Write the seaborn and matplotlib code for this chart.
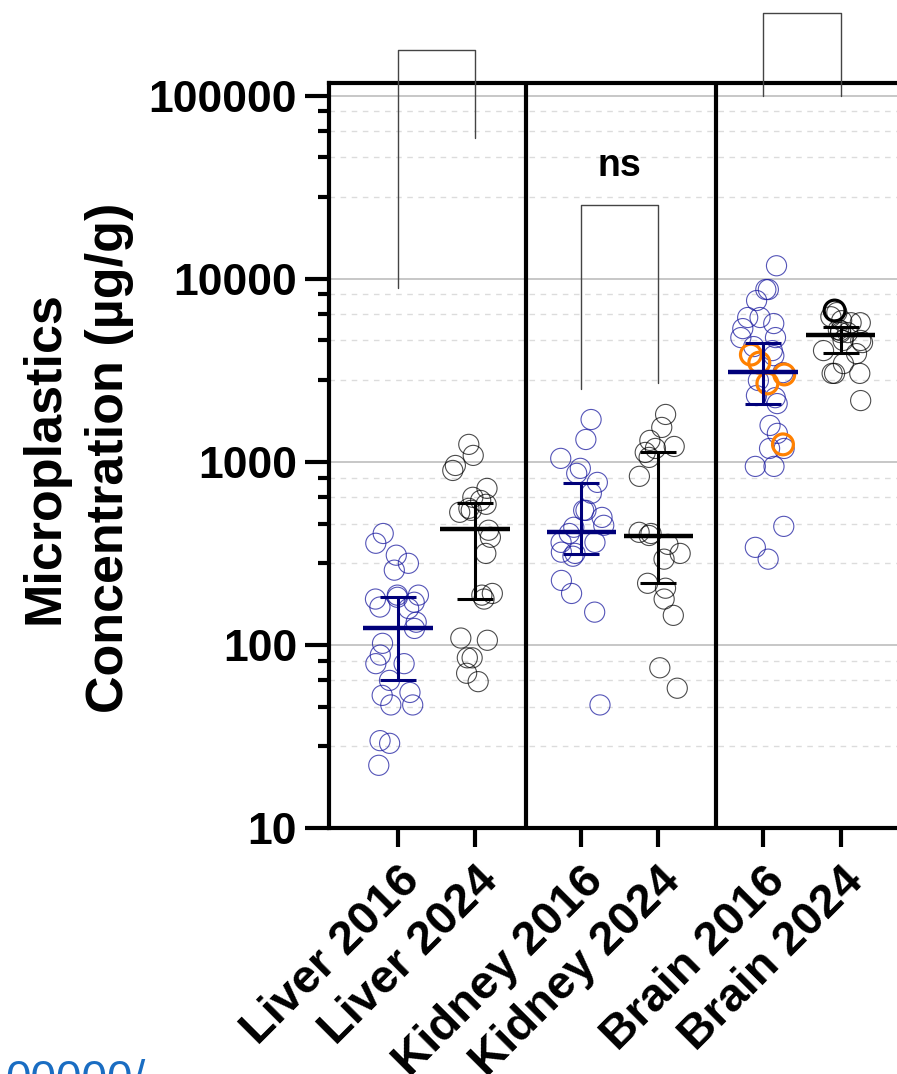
import numpy as np
import pandas as pd
import matplotlib
matplotlib.use("Agg")
import matplotlib.pyplot as plt
import seaborn as sns

# values (ug/g)
categories = ["Liver 2016", "Liver 2024", "Kidney 2016", "Kidney 2024", "Brain 2016", "Brain 2024"]
years = ["2016", "2024", "2016", "2024", "2016", "2024"]

liver_2016 = [406, 359, 309, 279, 256, 187, 178, 182, 187, 171, 158, 161, 133, 123,
              102, 79, 79, 88, 64, 53, 55, 47, 47, 29, 30, 22]
liver_2024 = [1245, 1084, 955, 897, 716, 640, 615, 586, 543, 557, 530, 423, 387, 316,
              191, 187, 178, 109, 106, 85, 85, 70, 63]
kidney_2016 = [1702, 1324, 1044, 921, 865, 772, 673, 543, 543, 497, 450, 439, 406, 363,
               363, 316, 321, 305, 225, 191, 151, 47]
kidney_2024 = [1814, 1541, 1309, 1125, 1213, 1057, 1183, 833, 396, 412, 406, 354, 316,
               294, 217, 204, 178, 145, 75, 58]
brain_2016 = [11770, 8730, 8730, 7600, 6140, 6140, 5690, 5340, 4770, 4770, 4260, 4050,
              3800, 3070, 2780, 2300, 2080, 2240, 1580, 1430, 1183, 1183, 944, 944,
              444, 341, 294]
brain_2024 = [6530, 6200, 5900, 5750, 5750, 5080, 5210, 5080, 5270, 4600, 4480, 4600,
              3900, 4050, 3440, 3040, 3040, 3040, 2160]
brain_2016_orange = [3850, 3480, 3000, 2680, 1245]
brain_2024_bold = [6700]

medians = [123, 428, 412, 392, 3110, 4900]
err_low = [64, 178, 312, 217, 2080, 3950]
err_high = [182, 593, 762, 1125, 4430, 5480]

# brackets: (left group, right group, left leg end, right leg end, top, label)
brackets = [(0, 1, 8930, 58900, 178000, ""),
            (2, 3, 2510, 2680, 25400, "ns"),
            (4, 5, 100000, 100000, 282000, "")]

# layout
xpos = [0, 1, 2.38, 3.38, 4.74, 5.75]
separators = [1.662, 4.13]
spread = 0.3   # half width of the point cloud, in category units
navy = "#1c1ca0"
navy_dark = "#00007a"

groups = [liver_2016, liver_2024, kidney_2016, kidney_2024, brain_2016, brain_2024]
df = pd.DataFrame({
    "pos": np.concatenate([[p] * len(v) for p, v in zip(xpos, groups)]),
    "value": np.concatenate(groups).astype(float),
    "year": np.concatenate([[y] * len(v) for y, v in zip(years, groups)]),
})

sns.set_theme(style="white")
plt.rcParams["font.family"] = ["Liberation Sans", "DejaVu Sans"]
plt.rcParams["font.weight"] = "bold"
for key in ["text.color", "axes.labelcolor", "xtick.color", "ytick.color"]:
    plt.rcParams[key] = "black"

fig = plt.figure(figsize=(8.97, 10.74), dpi=100)
ax = fig.add_axes([329 / 897, 1 - 828 / 1074, (925 - 329) / 897, (828 - 83) / 1074])
ax.set_yscale("log")


def hollow(start, edge, alpha, lw):
    for coll in ax.collections[start:]:
        coll.set_facecolor("none")
        coll.set_edgecolor(matplotlib.colors.to_rgba(edge, alpha))
        coll.set_linewidth(lw)


np.random.seed(11)
for year, col, alpha in [("2016", navy, 0.75), ("2024", "black", 0.7)]:
    sub = df[df["year"] == year]
    width = np.min(np.diff(np.sort(sub["pos"].unique())))
    n0 = len(ax.collections)
    sns.stripplot(data=sub, x="pos", y="value", native_scale=True, orient="x",
                  jitter=spread / width, size=14.5, color=col, ax=ax, zorder=2)
    hollow(n0, col, alpha, 0.8)

n0 = len(ax.collections)
sns.stripplot(x=[xpos[4]] * len(brain_2016_orange), y=brain_2016_orange, native_scale=True,
              orient="x", jitter=spread, size=15, color="#ff8000", ax=ax, zorder=4)
hollow(n0, "#ff8000", 1.0, 2.3)

n0 = len(ax.collections)
sns.stripplot(x=[xpos[5] - 0.08] * len(brain_2024_bold), y=brain_2024_bold, native_scale=True,
              orient="x", jitter=False, size=15, color="black", ax=ax, zorder=4)
hollow(n0, "black", 1.0, 2.3)

# median with interquartile range
for i, x in enumerate(xpos):
    c = navy_dark if years[i] == "2016" else "black"
    ax.hlines(medians[i], x - 0.45, x + 0.45, colors=c, lw=3.2, zorder=5)
    ax.errorbar(x, medians[i], yerr=[[medians[i] - err_low[i]], [err_high[i] - medians[i]]],
                fmt="none", ecolor=c, elinewidth=2.2, capsize=13, capthick=2.2, zorder=5)

for s in separators:
    ax.axvline(s, color="black", lw=3, zorder=6)

for a, b, ya, yb, top, label in brackets:
    ax.plot([xpos[a], xpos[a], xpos[b], xpos[b]], [ya, top, top, yb],
            color="#444444", lw=1, clip_on=False, zorder=3)
    if label:
        ax.text((xpos[a] + xpos[b]) / 2, 41400, label, ha="center", va="center",
                fontsize=27, fontweight="bold")

ax.set_xlim(-0.896, 6.844)
ax.set_ylim(10, 117200)

major = [10, 100, 1000, 10000, 100000]
minor = [10 ** d * (1 + 1.8 * k) for d in range(1, 5) for k in range(1, 5)]
ax.set_yticks(major)
ax.set_yticklabels([str(v) for v in major])
ax.set_yticks(minor, minor=True)
ax.set_yticklabels([], minor=True)
ax.yaxis.grid(True, which="major", color="#b8b8b8", lw=1.1, zorder=0)
ax.yaxis.grid(True, which="minor", color="#dcdcdc", lw=1.0, ls=(0, (4, 4)), zorder=0)
ax.set_axisbelow(True)

ax.set_xticks(xpos)
ax.set_xticklabels(categories, rotation=45, ha="right", rotation_mode="anchor",
                   fontsize=34, fontweight="bold")
for lab in ax.get_yticklabels():
    lab.set_fontsize(32)
    lab.set_fontweight("bold")

ax.tick_params(axis="y", which="major", direction="out", length=17, width=3, pad=6, left=True)
ax.tick_params(axis="y", which="minor", direction="out", length=8, width=3, left=True)
ax.tick_params(axis="x", which="major", direction="out", length=14, width=3, pad=8, bottom=True)

for side in ["left", "bottom", "top", "right"]:
    ax.spines[side].set_linewidth(3)
    ax.spines[side].set_color("black")

ax.set_xlabel("")
ax.set_ylabel("Microplastics\nConcentration (µg/g)", fontsize=37.5, fontweight="bold",
              linespacing=1.4)
ax.yaxis.set_label_coords((134 - 329) / 596, 0.497)

fig.text(0.006, -0.018, "00000/", color="#1a6dc2", fontsize=33, fontweight="normal",
         va="baseline", ha="left")

fig.savefig("out.png", dpi=100)
